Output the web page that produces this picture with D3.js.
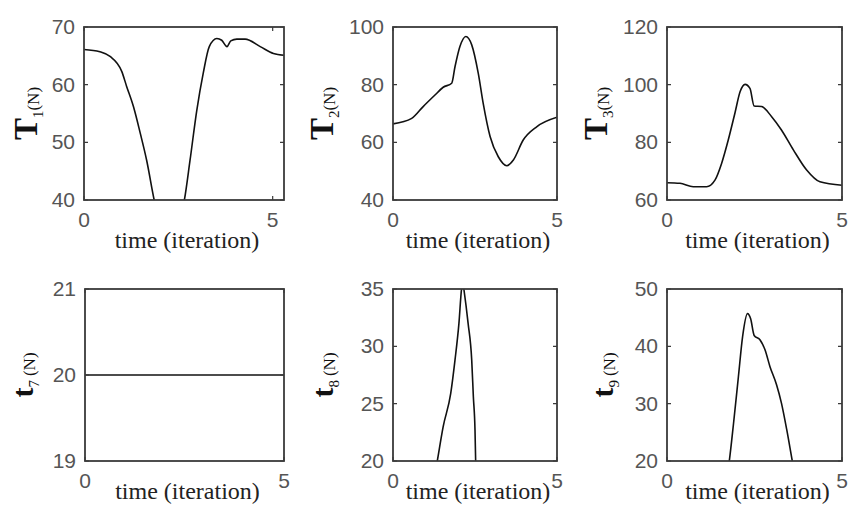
<!DOCTYPE html>
<html>
<head>
<meta charset="utf-8">
<script src="https://cdn.jsdelivr.net/npm/d3@7"></script>
<style>
  body { margin: 0; background: #fff; }
  svg { display: block; }
</style>
</head>
<body>
<svg width="850" height="510"></svg>
<script>
// values (time in iterations, force in N)
const timeT1 = [0, 0.42, 0.69, 1.0, 1.13, 1.31, 1.49, 1.66, 1.86, 2.0, 2.26, 2.5, 2.66, 2.81, 2.99, 3.16, 3.32, 3.52, 3.65, 3.79, 3.89, 4.05, 4.27, 4.67, 5.02, 5.3];
const forceT1 = [66.1, 65.7, 64.9, 62.3, 59.7, 56.2, 51.6, 46.9, 40, 36, 34, 36, 40, 46.9, 55.6, 62, 66.6, 68.0, 67.7, 66.6, 67.6, 67.9, 67.9, 66.6, 65.4, 65.1];

const timeT2 = [0, 0.57, 0.92, 1.28, 1.53, 1.79, 1.89, 2.04, 2.22, 2.40, 2.60, 2.75, 2.96, 3.21, 3.47, 3.67, 3.97, 4.38, 5.0];
const forceT2 = [66.4, 68.3, 72.4, 76.4, 79.1, 80.5, 86.2, 93.2, 96.7, 93.8, 83.9, 73.5, 62.0, 55.0, 51.9, 53.9, 60.8, 65.4, 68.7];

const timeT3 = [0, 0.37, 0.75, 1.13, 1.37, 1.56, 1.75, 1.94, 2.09, 2.23, 2.37, 2.49, 2.70, 2.99, 3.27, 3.61, 3.99, 4.37, 5.0];
const forceT3 = [66.0, 65.8, 64.6, 64.6, 66.9, 72.7, 80.8, 90.1, 97.6, 100.1, 98.7, 92.6, 92.4, 88.9, 84.3, 77.4, 70.4, 66.3, 65.1];

const timeT7 = [0, 5];
const forceT7 = [20, 20];

const timeT8 = [1.2, 1.35, 1.53, 1.76, 1.89, 2.01, 2.09, 2.13, 2.16, 2.29, 2.40, 2.45, 2.50, 2.52, 2.56];
const forceT8 = [17.5, 20, 23.0, 25.9, 28.8, 32.0, 35.0, 35.6, 35.0, 32, 28.8, 25.6, 22.7, 20, 16];

const timeT9 = [1.65, 1.78, 1.90, 2.04, 2.16, 2.30, 2.39, 2.49, 2.66, 2.80, 2.94, 3.13, 3.27, 3.42, 3.58, 3.7];
const forceT9 = [15, 20, 26.5, 34.7, 41.7, 45.7, 44.8, 41.9, 41.1, 39.4, 36.5, 33.3, 30.1, 25.5, 20, 16];

const symbols = ["T", "T", "T", "t", "t", "t"];
const subscripts = ["1", "2", "3", "7", "8", "9"];
const xTicks = [0, 5];
const xMax = [5.3, 5, 5, 5, 5, 5];
const yDomains = [[40, 70], [40, 100], [60, 120], [19, 21], [20, 35], [20, 50]];
const yTicks = [[40, 50, 60, 70], [40, 60, 80, 100], [60, 80, 100, 120], [19, 20, 21], [20, 25, 30, 35], [20, 30, 40, 50]];
const xLabel = "time (iteration)";

const series = [
  [timeT1, forceT1], [timeT2, forceT2], [timeT3, forceT3],
  [timeT7, forceT7], [timeT8, forceT8], [timeT9, forceT9]
];

// panel boxes in pixels
const boxes = [
  { x0: 84, x1: 284, y0: 27, y1: 200, lab: 47 },
  { x0: 393, x1: 557, y0: 27, y1: 200, lab: 60 },
  { x0: 667, x1: 842, y0: 27, y1: 200, lab: 60 },
  { x0: 85, x1: 284, y0: 289, y1: 461, lab: 52 },
  { x0: 393, x1: 557, y0: 289, y1: 461, lab: 60 },
  { x0: 667, x1: 842, y0: 289, y1: 461, lab: 54 }
];

const svg = d3.select("svg");
svg.append("rect").attr("width", 850).attr("height", 510).attr("fill", "#fff");

const frameColor = "#3a3a3a";
const tickFont = "'Liberation Sans Narrow', 'Liberation Sans', Arial, sans-serif";
const serif = "'Liberation Serif', 'Times New Roman', serif";

boxes.forEach((b, i) => {
  const x = d3.scaleLinear().domain([0, xMax[i]]).range([b.x0, b.x1]);
  const y = d3.scaleLinear().domain(yDomains[i]).range([b.y1, b.y0]);
  const g = svg.append("g");

  g.append("clipPath")
    .attr("id", "clip" + i)
    .append("rect")
    .attr("x", b.x0)
    .attr("y", b.y0)
    .attr("width", b.x1 - b.x0)
    .attr("height", b.y1 - b.y0);

  const pts = series[i][0].map((t, k) => [t, series[i][1][k]]);
  g.append("path")
    .datum(pts)
    .attr("clip-path", `url(#clip${i})`)
    .attr("d", d3.line().curve(d3.curveMonotoneX).x((d) => x(d[0])).y((d) => y(d[1])))
    .attr("fill", "none")
    .attr("stroke", "#111")
    .attr("stroke-width", 1.6);

  // inward ticks on all four sides
  const tl = 4;
  g.selectAll(".yt")
    .data(yTicks[i])
    .enter()
    .append("path")
    .attr("d", (d) => `M${b.x0},${y(d)}h${tl}M${b.x1},${y(d)}h${-tl}`)
    .attr("stroke", frameColor)
    .attr("stroke-width", 1.2);
  g.selectAll(".xt")
    .data(xTicks)
    .enter()
    .append("path")
    .attr("d", (d) => `M${x(d)},${b.y1}v${-tl}M${x(d)},${b.y0}v${tl}`)
    .attr("stroke", frameColor)
    .attr("stroke-width", 1.2);

  g.append("rect")
    .attr("x", b.x0)
    .attr("y", b.y0)
    .attr("width", b.x1 - b.x0)
    .attr("height", b.y1 - b.y0)
    .attr("fill", "none")
    .attr("stroke", frameColor)
    .attr("stroke-width", 1.8);

  g.selectAll(".yl")
    .data(yTicks[i])
    .enter()
    .append("text")
    .attr("x", b.x0 - 9)
    .attr("y", (d) => y(d) + 7)
    .attr("text-anchor", "end")
    .attr("font-family", tickFont)
    .attr("font-size", 21)
    .attr("fill", "#555")
    .text((d) => d);

  g.selectAll(".xl")
    .data(xTicks)
    .enter()
    .append("text")
    .attr("x", (d) => x(d))
    .attr("y", b.y1 + 27)
    .attr("text-anchor", "middle")
    .attr("font-family", tickFont)
    .attr("font-size", 21)
    .attr("fill", "#555")
    .text((d) => d);

  g.append("text")
    .attr("x", (b.x0 + b.x1) / 2 + 3)
    .attr("y", i < 3 ? b.y1 + 48 : b.y1 + 38)
    .attr("text-anchor", "middle")
    .attr("font-family", serif)
    .attr("font-size", 24)
    .attr("fill", "#222")
    .text(xLabel);

  // rotated y label: bold symbol, subscript, then (N)
  const yl = g.append("text")
    .attr("transform", `translate(${b.x0 - b.lab},${(b.y0 + b.y1) / 2}) rotate(-90)`)
    .attr("text-anchor", "middle")
    .attr("font-family", serif)
    .attr("fill", "#111");
  yl.append("tspan")
    .attr("font-size", i < 3 ? 33 : 30)
    .attr("font-weight", "bold")
    .text(symbols[i]);
  yl.append("tspan")
    .attr("font-size", 15)
    .attr("dy", 6)
    .text(subscripts[i]);
  yl.append("tspan")
    .attr("font-size", 17)
    .attr("dy", -4)
    .attr("dx", i < 3 ? 0 : 4)
    .text("(N)");
});
</script>
</body>
</html>
